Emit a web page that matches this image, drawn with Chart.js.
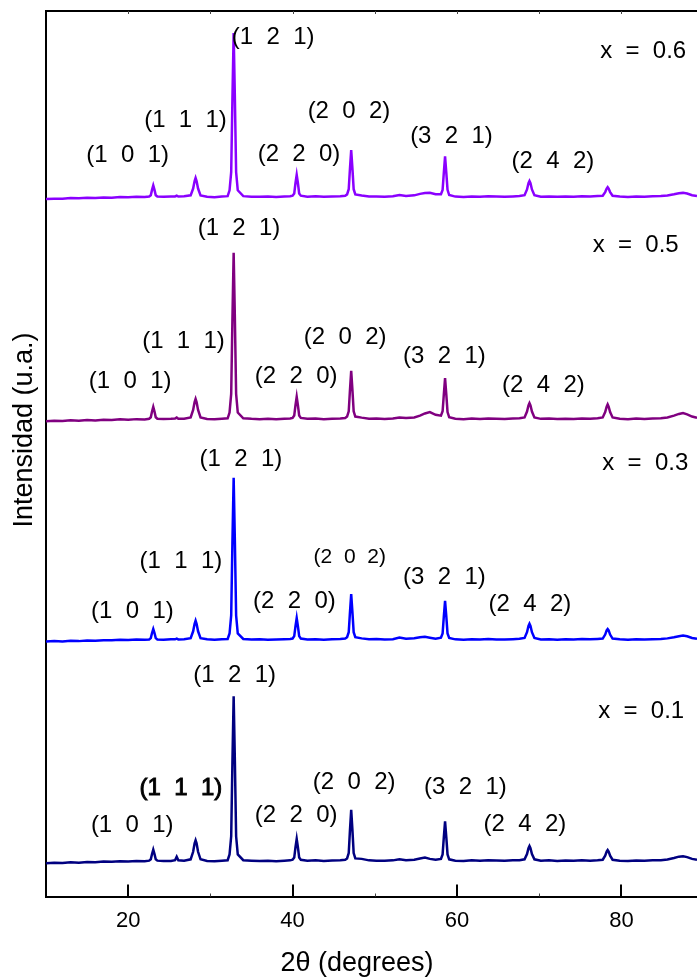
<!DOCTYPE html>
<html>
<head>
<meta charset="utf-8">
<script src="https://cdn.jsdelivr.net/npm/chart.js@4.4.1/dist/chart.umd.min.js"></script>
<style>
  html, body { margin: 0; padding: 0; background: #fff; }
  #wrap { width: 697px; height: 978px; }
  canvas { display: block; }
</style>
</head>
<body>
<div id="wrap"><canvas id="xrd" width="697" height="978"></canvas></div>
<script>
// 2θ sampling positions (degrees), shared by all four patterns
const twoTheta = [
  10, 11, 12, 13, 14, 15, 16, 17, 18, 19, 20, 21, 22,
  22.55, 22.75, 22.9, 23.05, 23.2, 23.35, 23.55,
  24.3, 25.2, 25.7, 25.9, 26.1, 26.8,
  27.6, 27.9, 28.08, 28.2, 28.32, 28.5, 28.8,
  29.6, 30.5, 31.4, 32.1,
  32.33, 32.53, 32.68, 32.83, 32.98, 33.13, 33.33,
  34, 35, 36, 37, 38, 39, 39.7,
  40.0, 40.2, 40.35, 40.5, 40.65, 40.8, 41.0,
  41.8, 42.8, 43.8, 44.8, 45.8, 46.4,
  46.63, 46.83, 46.98, 47.13, 47.28, 47.43, 47.63,
  48.4, 49.3, 50.2, 51.2, 52.2, 53, 53.8, 54.8, 55.5, 56.1, 56.7, 57.4,
  58.05, 58.25, 58.4, 58.55, 58.7, 58.85, 59.05,
  59.8, 60.8, 61.8, 62.8, 63.8, 64.8, 65.8, 66.8, 67.6,
  68.22, 68.52, 68.7, 68.82, 68.94, 69.12, 69.42,
  70.2, 71.2, 72.2, 73.2, 74.2, 75.2, 76.2, 77.1,
  77.73, 78.03, 78.21, 78.33, 78.45, 78.63, 78.93,
  79.8, 80.8, 81.8, 82.8, 83.8, 84.8, 85.6, 86.4, 87, 87.5, 88, 88.6, 89.2
];

// Intensity (a.u.) of each pattern above its own baseline
const int01 = [
  -1.5, -1, -1.2, -0.4, -0.8, 0, -0.3, 0.4, 0.2, 0.8, 0.5, 1, 0.8,
  1.5, 3, 9, 14, 9, 3, 1.5,
  1, 1.2, 2, 6, 2, 1.5,
  3, 11.5, 21, 24.5, 21, 11.5, 3,
  1.2, 0.8, 1.5, 2,
  8.5, 29, 113, 187, 113, 29, 8.5,
  2, 1.5, 1, 1.4, 0.8, 1.5, 1.8,
  2.5, 5, 16.5, 26, 16.5, 5, 2.5,
  1.5, 1.8, 1.2, 1.6, 2, 2.5,
  4, 10, 36, 59, 36, 10, 4,
  3.5, 1.8, 1.5, 1.3, 1.8, 3, 2, 2.5, 4, 5, 3.5, 2.5,
  3.5, 8.5, 28, 46, 28, 8.5, 3,
  1.5, 1.2, 1.8, 1.4, 2, 1.6, 1.3, 1.8, 2,
  3, 9, 15.5, 18, 15.5, 9, 3,
  1.5, 1.8, 1.2, 1.6, 1.4, 2, 1.5, 2,
  2.5, 7, 11.8, 13.5, 11.8, 7, 2.5,
  1.5, 1, 1.6, 1.3, 1.8, 2, 2.8, 4.5, 6, 6.5, 5.5, 3.5, 2.5
];
const int03 = [
  -1, -0.6, -1, -0.2, -0.6, 0.2, -0.2, 0.5, 0.3, 1, 0.6, 1.2, 0.9,
  1.3, 2.8, 8.5, 13, 8.5, 2.8, 1.3,
  1, 1.5, 1.4, 2.2, 1.3, 1.6,
  2.8, 10.5, 19, 22.5, 19, 10.5, 2.8,
  1.4, 0.9, 1.4, 1.8,
  8, 28.5, 111, 184, 111, 28.5, 8,
  1.8, 1.2, 1.5, 1, 1.3, 1.6, 1.9,
  2.3, 5, 16, 25.5, 16, 5, 2.3,
  1.2, 1.6, 1, 1.5, 1.8, 2.3,
  3.8, 9.5, 32, 52.5, 32, 9.5, 3.8,
  2.5, 1.5, 1.7, 1.2, 1.6, 3.5, 2, 2.6, 3.8, 4.2, 3.3, 2.2,
  3.2, 8, 27.5, 45, 27.5, 8, 3,
  1.4, 1, 1.6, 1.2, 1.8, 1.3, 1.1, 1.6, 2,
  3, 9.5, 16.5, 19, 16.5, 9.5, 3,
  1.3, 1.6, 1, 1.5, 1.2, 1.8, 1.4, 1.9,
  2.3, 6.8, 11.5, 13, 11.5, 6.8, 2.3,
  1.4, 1, 1.5, 1.2, 1.6, 1.9, 2.5, 3.8, 5, 5.6, 4.8, 3, 2
];
const int05 = [
  -1.2, -0.8, -1, -0.3, -0.7, 0.1, -0.4, 0.4, 0.2, 0.9, 0.5, 1.1, 0.8,
  1.5, 3.2, 9.7, 15, 9.7, 3.2, 1.5,
  1.2, 1.4, 1.8, 3, 1.6, 1.5,
  3, 11.5, 20.5, 24, 20.5, 11.5, 3,
  1.3, 0.9, 1.5, 2,
  8.5, 29.5, 114, 189, 114, 29.5, 8.5,
  2, 1.4, 1.1, 1.5, 0.9, 1.6, 1.9,
  2.5, 5.2, 16.6, 26.3, 16.6, 5.2, 2.5,
  1.4, 1.7, 1.1, 1.5, 1.9, 2.4,
  4, 10, 34, 55.5, 34, 10, 4,
  2.8, 1.6, 1.7, 1.3, 1.8, 3, 2.3, 3, 5, 7.5, 9, 6,
  5, 10, 29, 47.4, 29, 9, 3.3,
  1.5, 1.1, 1.7, 1.3, 1.9, 1.5, 1.2, 1.7, 2.2,
  3, 9.7, 16.7, 19.2, 16.7, 9.7, 3,
  1.4, 1.7, 1.2, 1.6, 1.3, 1.9, 1.5, 2.2,
  3, 9, 15.2, 17.7, 15.2, 9, 3,
  1.5, 1.1, 1.7, 1.3, 1.9, 2.2, 3, 5, 7, 7.9, 6.5, 4, 2.5
];
const int06 = [
  -1.3, -0.9, -1.1, -0.3, -0.6, 0, -0.3, 0.5, 0.2, 0.9, 0.6, 1.1, 0.9,
  1.5, 3, 9, 14, 9, 3, 1.5,
  1.1, 1.4, 1.6, 2.4, 1.4, 1.7,
  2.8, 10.5, 19, 22.5, 19, 10.5, 2.8,
  1.3, 0.8, 1.4, 1.9,
  8.5, 29, 112, 186, 112, 29, 8.5,
  1.9, 1.3, 1.2, 1.4, 0.9, 1.5, 1.8,
  2.5, 5, 16.5, 26, 16.5, 5, 2.5,
  1.3, 1.7, 1.1, 1.5, 1.9, 2.4,
  3.9, 9.8, 33, 54, 33, 9.8, 3.9,
  2.6, 1.5, 1.6, 1.2, 1.7, 3.2, 2.2, 2.8, 4.5, 5.5, 5.8, 4,
  4, 9, 28.5, 47, 28.5, 9, 3.2,
  1.4, 1, 1.6, 1.2, 1.8, 1.4, 1.1, 1.6, 2,
  3, 9.5, 16.5, 19, 16.5, 9.5, 3,
  1.3, 1.6, 1.1, 1.5, 1.2, 1.8, 1.4, 2,
  2.3, 6.5, 10.5, 12, 10.5, 6.5, 2.3,
  1.4, 1, 1.5, 1.2, 1.7, 2, 2.6, 4, 5.2, 5.6, 4.8, 3, 2
];

// Composition of each sample and the vertical shift used to stack the patterns
const compositions = ['x = 0.1', 'x = 0.3', 'x = 0.5', 'x = 0.6'];
const stackOffset = [39, 289, 538, 789];
const patterns = [int01, int03, int05, int06];
const lineColors = ['#000080', '#0000FF', '#800080', '#8A00FF'];

// Miller indices of the indexed reflections
const peakLabels = ['(1 0 1)', '(1 1 1)', '(1 2 1)', '(2 2 0)', '(2 0 2)', '(3 2 1)', '(2 4 2)'];

// Axis ticks (degrees)
const majorTicks = [20, 40, 60, 80];
const minorTicks = [30, 50, 70];
const frameTicks = [20, 30, 40, 50, 60, 70, 80];

// Where each reflection label and composition tag sits, in (2θ, a.u.)
const labelAnchors = [
  [[20.49, 80.7], [26.42, 122.2], [32.96, 250.1], [40.44, 92.0], [47.49, 128.5], [61.02, 122.9], [68.26, 81.5], [82.41, 208.7]],
  [[20.51, 321.6], [26.42, 378.1], [33.72, 494.1], [40.22, 333.7], [46.95, 383.1], [58.47, 360.5], [68.87, 330.0], [82.90, 489.2]],
  [[20.24, 581.4], [26.73, 626.5], [33.48, 754.9], [40.44, 587.8], [46.40, 631.5], [58.47, 609.6], [70.52, 576.8], [81.74, 735.7]],
  [[19.94, 837.4], [26.97, 876.1], [37.64, 970.6], [40.78, 838.2], [46.86, 886.3], [59.33, 858.0], [71.67, 830.6], [82.65, 954.0]]
];

const FONT = "'Liberation Sans', Arial, Helvetica, sans-serif";
const LABEL_SIZE = 24;
// per-label tweaks: [pattern index, label index] -> font size / extra stroke weight
const labelStyleOverrides = {
  '0,1': { size: 24, stroke: 0.9 },
  '1,4': { size: 21, stroke: 0 }
};

const wide = t => t.split(' ').join('  ');

const datasets = patterns.map((vals, i) => ({
  label: compositions[i],
  data: twoTheta.map((t, k) => ({ x: t, y: stackOffset[i] + vals[k] })),
  borderColor: lineColors[i],
  borderWidth: 2.5,
  pointRadius: 0,
  fill: false,
  tension: 0
}));

const overlay = {
  id: 'overlay',
  afterDraw(chart) {
    const { ctx, chartArea: a, scales: { x, y } } = chart;
    ctx.save();
    ctx.strokeStyle = '#000';
    ctx.lineCap = 'butt';

    // top frame line
    ctx.lineWidth = 2;
    ctx.beginPath();
    ctx.moveTo(a.left - 1, a.top);
    ctx.lineTo(a.right, a.top);
    ctx.stroke();

    // inward major ticks on the bottom axis
    majorTicks.forEach(v => {
      const px = Math.round(x.getPixelForValue(v));
      ctx.beginPath();
      ctx.moveTo(px, a.bottom);
      ctx.lineTo(px, a.bottom - 12);
      ctx.stroke();
    });
    // small minor ticks on the bottom axis and along the top frame
    ctx.lineWidth = 1;
    ctx.strokeStyle = '#444';
    minorTicks.forEach(v => {
      const px = Math.round(x.getPixelForValue(v)) + 0.5;
      ctx.beginPath();
      ctx.moveTo(px, a.bottom);
      ctx.lineTo(px, a.bottom - 3);
      ctx.stroke();
    });
    frameTicks.forEach(v => {
      const px = Math.round(x.getPixelForValue(v)) + 0.5;
      ctx.beginPath();
      ctx.moveTo(px, a.top);
      ctx.lineTo(px, a.top + 3);
      ctx.stroke();
    });

    // reflection labels and composition tags
    ctx.fillStyle = '#000';
    ctx.strokeStyle = '#000';
    ctx.textAlign = 'center';
    ctx.textBaseline = 'middle';
    labelAnchors.forEach((row, i) => {
      row.forEach((pos, j) => {
        const text = wide(j < peakLabels.length ? peakLabels[j] : compositions[i]);
        const st = labelStyleOverrides[i + ',' + j] || { size: LABEL_SIZE, stroke: 0 };
        ctx.font = st.size + 'px ' + FONT;
        const px = x.getPixelForValue(pos[0]);
        const py = y.getPixelForValue(pos[1]);
        ctx.fillText(text, px, py);
        if (st.stroke) {
          ctx.lineWidth = st.stroke;
          ctx.strokeText(text, px, py);
        }
      });
    });

    // axis titles
    ctx.font = '27px ' + FONT;
    ctx.fillText('2\u03B8 (degrees)', 357, 964);
    ctx.translate(25, 430);
    ctx.rotate(-Math.PI / 2);
    ctx.fillText('Intensidad (u.a.)', 0, 0);
    ctx.restore();
  }
};

new Chart(document.getElementById('xrd'), {
  type: 'line',
  data: { datasets },
  options: {
    responsive: false,
    animation: false,
    devicePixelRatio: 1,
    layout: { padding: { top: 11, left: 0, right: 0, bottom: 0 } },
    plugins: { legend: { display: false }, tooltip: { enabled: false } },
    scales: {
      x: {
        type: 'linear',
        min: 10,
        max: 89.2,
        afterBuildTicks: s => { s.ticks = majorTicks.map(v => ({ value: v })); },
        afterFit: s => { s.height = 81.5; },
        grid: { display: false, drawTicks: false },
        border: { display: true, color: '#000', width: 2 },
        ticks: { font: { family: FONT, size: 22 }, color: '#000', padding: 11, maxRotation: 0, autoSkip: false }
      },
      y: {
        type: 'linear',
        min: 0,
        max: 1000,
        afterFit: s => { s.width = 46; },
        grid: { display: false, drawTicks: false },
        border: { display: true, color: '#000', width: 2 },
        ticks: { display: false }
      }
    }
  },
  plugins: [overlay]
});
</script>
</body>
</html>
